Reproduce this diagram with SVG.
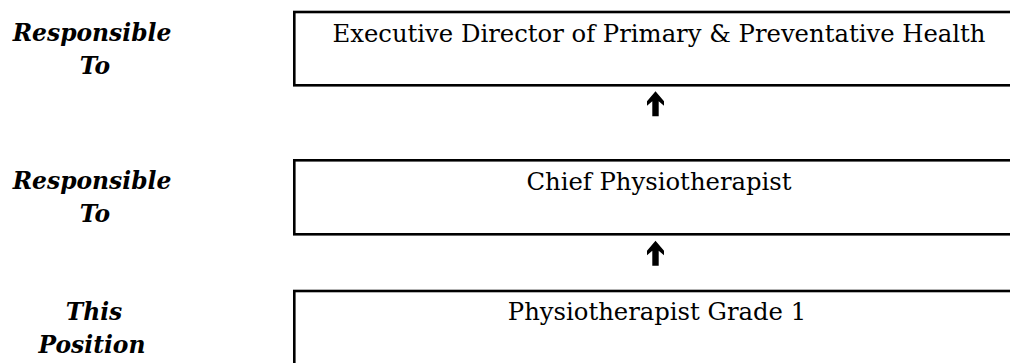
<svg xmlns="http://www.w3.org/2000/svg" width="1010" height="363" viewBox="0 0 1010 363">
<style>
.box{fill:#ffffff;stroke:#000000;stroke-width:2.6}
.t{font-family:"DejaVu Serif","Liberation Serif",serif;font-size:24.3px;fill:#000000;text-anchor:middle}
.lbl{font-family:"DejaVu Serif","Liberation Serif",serif;font-size:23.4px;font-weight:bold;font-style:italic;fill:#000000;text-anchor:middle}
.arr{fill:#000000}
</style>
<defs>
<polygon id="up" points="0,0 8.5,10 8.5,14.5 3.2,10 3.2,25 -3.2,25 -3.2,10 -8.5,14.5 -8.5,10"/>
</defs>
<rect width="1010" height="363" fill="#ffffff"/>
<g id="labels">
<text class="lbl" x="92" y="40.5">Responsible</text>
<text class="lbl" x="95" y="74">To</text>
<text class="lbl" x="92" y="188.5">Responsible</text>
<text class="lbl" x="95" y="222">To</text>
<text class="lbl" x="94" y="320">This</text>
<text class="lbl" x="92" y="353">Position</text>
</g>
<g id="node-exec">
<rect class="box" x="294.3" y="12" width="730" height="73.3"/>
<text class="t" x="659" y="42">Executive Director of Primary &amp; Preventative Health</text>
</g>
<g id="node-chief">
<rect class="box" x="294.3" y="160.3" width="730" height="74"/>
<text class="t" x="659" y="190">Chief Physiotherapist</text>
</g>
<g id="node-this">
<rect class="box" x="294.3" y="291" width="730" height="90"/>
<text class="t" x="657" y="320">Physiotherapist Grade 1</text>
</g>
<g id="connectors" class="arr">
<use href="#up" x="655.5" y="91.3"/>
<use href="#up" x="655.5" y="240.8"/>
</g>
</svg>
